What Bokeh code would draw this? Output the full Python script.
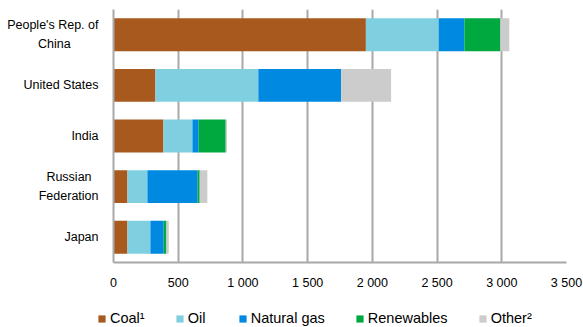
from bokeh.plotting import figure
from bokeh.layouts import column
from bokeh.models import ColumnDataSource, FactorRange, Range1d, Legend, LegendItem, CustomJSTickFormatter, FixedTicker
from bokeh.embed import file_html
from bokeh.resources import INLINE

NB = "\u00a0"
countries = ["People's Rep. of\nChina" + NB * 8, "United States", "India",
             "Russian" + NB * 2 + "\nFederation", "Japan"]
coal = [1950, 324, 386, 108, 108]
oil = [563, 795, 224, 154, 177]
natural_gas = [198, 640, 48, 388, 103]
renewables = [278, 0, 209, 16, 21]
other = [69, 386, 10, 59, 18]

series = ["coal", "oil", "natural_gas", "renewables", "other"]
labels = ["Coal\u00b9", "Oil", "Natural gas", "Renewables", "Other\u00b2"]
colors = ["#A85A1E", "#80CFE0", "#0089E0", "#00A840", "#CCCCCC"]
x_ticks = [0, 500, 1000, 1500, 2000, 2500, 3000, 3500]

source = ColumnDataSource(dict(country=countries, coal=coal, oil=oil, natural_gas=natural_gas,
                               renewables=renewables, other=other))

FONT = "'Liberation Sans', Arial, sans-serif"

p = figure(width=583, height=292, output_backend="svg", toolbar_location=None,
           y_range=FactorRange(factors=list(reversed(countries)), range_padding=0),
           x_range=Range1d(0, 3500), frame_align=False,
           min_border_left=113, min_border_right=17, min_border_top=9, min_border_bottom=28)

renderers = p.hbar_stack(series, y="country", height=0.65, color=colors, source=source, line_width=0)

p.outline_line_color = None
p.background_fill_color = "white"
p.border_fill_color = "white"

p.ygrid.grid_line_color = None
p.xgrid.grid_line_color = "#A8A8A8"
p.xgrid.grid_line_width = 2
p.xgrid.ticker = FixedTicker(ticks=x_ticks)

p.xaxis.ticker = FixedTicker(ticks=x_ticks)
p.xaxis.formatter = CustomJSTickFormatter(code="return tick >= 1000 ? Math.floor(tick/1000) + ' ' + String(tick % 1000).padStart(3, '0') : String(tick);")
p.xaxis.axis_line_color = "#A8A8A8"
p.xaxis.axis_line_width = 2
p.xaxis.major_tick_line_color = None
p.xaxis.minor_tick_line_color = None
p.xaxis.major_tick_out = 0
p.xaxis.major_tick_in = 0
p.xaxis.major_label_standoff = 13
p.xaxis.major_label_text_font = FONT
p.xaxis.major_label_text_font_size = "12.5px"
p.xaxis.major_label_text_color = "#000000"

p.yaxis.axis_line_color = "#A8A8A8"
p.yaxis.axis_line_width = 2
p.yaxis.major_tick_line_color = None
p.yaxis.minor_tick_line_color = None
p.yaxis.major_tick_out = 0
p.yaxis.major_tick_in = 0
p.yaxis.major_label_standoff = 15
p.yaxis.major_label_text_font = FONT
p.yaxis.major_label_text_font_size = "12.5px"
p.yaxis.major_label_text_color = "#000000"
p.yaxis.major_label_text_line_height = 1.35

# legend strip below the chart
lg = figure(width=583, height=35, output_backend="svg", toolbar_location=None,
            x_range=Range1d(0, 1), y_range=Range1d(0, 1), frame_align=False,
            x_axis_location=None, y_axis_location=None,
            min_border_left=0, min_border_right=0, min_border_top=0, min_border_bottom=0)
lg.outline_line_color = None
lg.grid.grid_line_color = None
lg.border_fill_color = "white"
nan = float("nan")
legend_renderers = [lg.hbar(y=[nan], right=[nan], height=0.5, color=c, line_width=0) for c in colors]
items = [LegendItem(label=lab, renderers=[r]) for lab, r in zip(labels, legend_renderers)]
legend = Legend(items=items, orientation="horizontal", location=(97, 1),
                glyph_width=9, glyph_height=9, label_standoff=4, spacing=30,
                padding=0, margin=0, border_line_color=None, background_fill_alpha=0,
                label_text_font=FONT, label_text_font_size="14.5px",
                label_text_color="#000000", label_height=16)
lg.add_layout(legend, "center")

layout = column(p, lg, spacing=0)
open("out.html", "w").write(file_html(layout, INLINE))
